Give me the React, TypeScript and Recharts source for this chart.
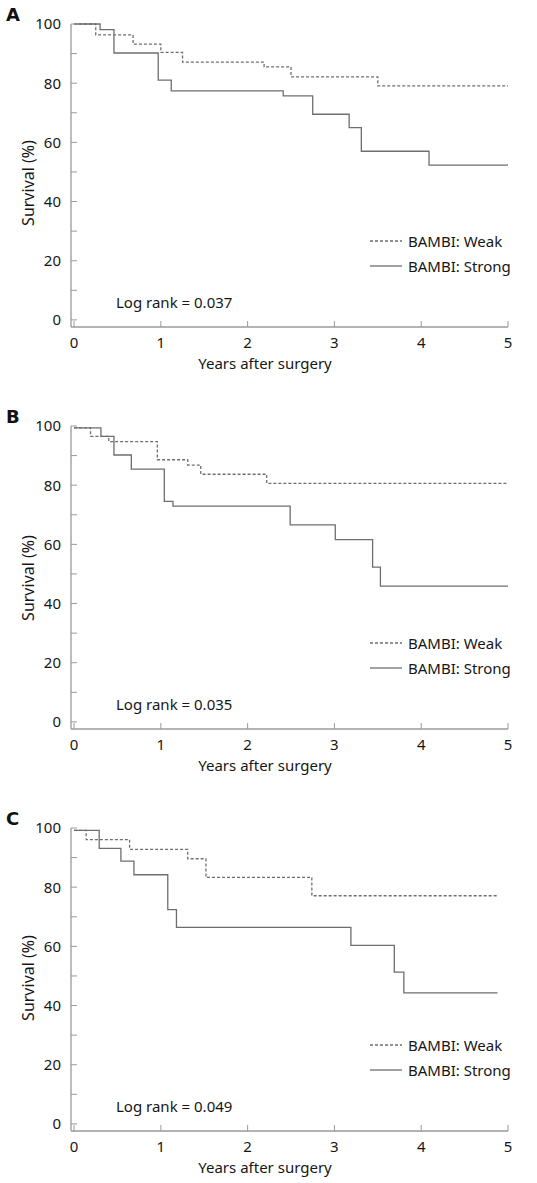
import React from "react";
import { LineChart, Line, XAxis, YAxis, Legend, Label } from "recharts";

// Kaplan-Meier steps: time (years) -> survival (%)
const yearsWeakA = [0, 0.25, 0.68, 1.0, 1.25, 2.19, 2.5, 3.5, 5];
const survWeakA = [100, 96.3, 93.2, 90.4, 87.1, 85.5, 82.1, 79.1, 79.1];
const yearsStrongA = [0, 0.3, 0.46, 0.97, 1.12, 2.41, 2.75, 3.17, 3.31, 4.09, 5];
const survStrongA = [100, 98.1, 90.2, 81.0, 77.4, 75.7, 69.5, 65.0, 57.0, 52.3, 52.3];

const yearsWeakB = [0, 0.19, 0.4, 0.96, 1.31, 1.46, 2.22, 5];
const survWeakB = [99.4, 96.5, 94.7, 88.6, 86.8, 83.7, 80.6, 80.6];
const yearsStrongB = [0, 0.31, 0.46, 0.66, 1.04, 1.14, 2.49, 3.01, 3.44, 3.53, 5];
const survStrongB = [99.4, 96.5, 90.2, 85.4, 74.5, 72.9, 66.6, 61.6, 52.3, 45.9, 45.9];

const yearsWeakC = [0, 0.14, 0.64, 1.31, 1.52, 2.74, 4.88];
const survWeakC = [99.2, 96.1, 92.8, 89.6, 83.3, 77.1, 77.1];
const yearsStrongC = [0, 0.29, 0.54, 0.69, 1.08, 1.18, 3.19, 3.69, 3.8, 4.88];
const survStrongC = [99.2, 93.1, 88.8, 84.2, 72.4, 66.4, 60.3, 51.3, 44.3, 44.3];

const panelLetters = ["A", "B", "C"];
const logRankValues = ["0.037", "0.035", "0.049"];
const xTicks = [0, 1, 2, 3, 4, 5];
const yTicks = [0, 10, 20, 30, 40, 50, 60, 70, 80, 90, 100];
const seriesNames = ["BAMBI: Weak", "BAMBI: Strong"];

const toPoints = (years: number[], surv: number[]) =>
  years.map((t, i) => ({ t, s: surv[i] }));

const panels = [
  { weak: toPoints(yearsWeakA, survWeakA), strong: toPoints(yearsStrongA, survStrongA), yLabelShift: 11 },
  { weak: toPoints(yearsWeakB, survWeakB), strong: toPoints(yearsStrongB, survStrongB), yLabelShift: 4 },
  { weak: toPoints(yearsWeakC, survWeakC), strong: toPoints(yearsStrongC, survStrongC), yLabelShift: 2 },
];

const FONT = "'Noto Sans', sans-serif";
const TEXT = "#161616";
const AXIS = "#9a9a9a";
const CURVE = "#6e6e6e";
const DASH = "3 2";

const YTick = (props: any) => {
  const { x, y, payload } = props;
  return (
    <g>
      <line x1={x} x2={x + 6} y1={y} y2={y} stroke={AXIS} strokeWidth={1} />
      {payload.value % 20 === 0 && (
        <text x={x - 10} y={y} dy="0.36em" textAnchor="end" fontSize={15} fontFamily={FONT} fill={TEXT}>
          {payload.value}
        </text>
      )}
    </g>
  );
};

const XTick = (props: any) => {
  const { x, y, payload } = props;
  return (
    <g>
      <line x1={x} x2={x} y1={y - 6} y2={y} stroke={AXIS} strokeWidth={1} />
      <text x={x} y={y + 16} dy="0.36em" textAnchor="middle" fontSize={15} fontFamily={FONT} fill={TEXT}>
        {payload.value}
      </text>
    </g>
  );
};

const LegendBox = (props: any) => {
  const entries = [...(props.payload || [])].sort(
    (a: any, b: any) => seriesNames.indexOf(a.value) - seriesNames.indexOf(b.value)
  );
  return (
    <div style={{ fontFamily: FONT, fontSize: 15, color: TEXT }}>
      {entries.map((entry: any) => (
        <div key={entry.value} style={{ display: "flex", alignItems: "center", height: 25 }}>
          <svg width={32} height={4} style={{ marginRight: 6 }}>
            <line
              x1={0}
              x2={32}
              y1={2}
              y2={2}
              stroke={CURVE}
              strokeWidth={1.3}
              strokeDasharray={entry.value === seriesNames[0] ? DASH : undefined}
            />
          </svg>
          <span>{entry.value}</span>
        </div>
      ))}
    </div>
  );
};

function Panel({ index }: { index: number }) {
  const p = panels[index];
  return (
    <div style={{ position: "relative", width: 537, height: 402 }}>
      <div
        style={{
          position: "absolute",
          left: 6,
          top: 4,
          fontFamily: "'DejaVu Sans', sans-serif",
          fontWeight: "bold",
          fontSize: 18,
          color: "#111",
          zIndex: 2,
        }}
      >
        {panelLetters[index]}
      </div>
      <div
        style={{
          position: "absolute",
          left: 116,
          top: 292,
          fontFamily: FONT,
          fontSize: 15,
          color: TEXT,
          zIndex: 2,
        }}
      >
        Log rank = {logRankValues[index]}
      </div>
      <LineChart width={537} height={402} margin={{ top: 24, right: 29, bottom: 25, left: 21 }}>
        <XAxis
          type="number"
          dataKey="t"
          domain={[-0.035, 5]}
          ticks={xTicks}
          interval={0}
          height={50}
          tickSize={0}
          tickMargin={0}
          tickLine={false}
          tick={<XTick />}
          stroke={AXIS}
          strokeWidth={1.3}
        >
          <Label
            content={(lp: any) => {
              const vb = lp.viewBox || {};
              return (
                <text
                  x={265}
                  y={vb.y + 37}
                  dy="0.36em"
                  textAnchor="middle"
                  fontSize={15}
                  fontFamily={FONT}
                  fill={TEXT}
                >
                  Years after surgery
                </text>
              );
            }}
          />
        </XAxis>
        <YAxis
          type="number"
          dataKey="s"
          domain={[-2.4, 100]}
          ticks={yTicks}
          interval={0}
          width={50}
          tickSize={0}
          tickMargin={0}
          tickLine={false}
          tick={<YTick />}
          stroke={AXIS}
          strokeWidth={1.3}
        >
          <Label
            content={(lp: any) => {
              const vb = lp.viewBox || {};
              const cx = 28;
              const cy = vb.y + 148 + p.yLabelShift;
              return (
                <text
                  x={cx}
                  y={cy}
                  dy="0.36em"
                  textAnchor="middle"
                  transform={`rotate(-90 ${cx} ${cy})`}
                  fontSize={16}
                  fontFamily={FONT}
                  fill={TEXT}
                >
                  Survival (%)
                </text>
              );
            }}
          />
        </YAxis>
        <Legend
          layout="horizontal"
          verticalAlign="middle"
          align="center"
          content={<LegendBox />}
          wrapperStyle={{ left: 370, top: 228, width: 160 }}
        />
        <Line
          data={p.weak}
          dataKey="s"
          name={seriesNames[0]}
          type="stepAfter"
          stroke={CURVE}
          strokeWidth={1.3}
          strokeDasharray={DASH}
          dot={false}
          activeDot={false}
          isAnimationActive={false}
        />
        <Line
          data={p.strong}
          dataKey="s"
          name={seriesNames[1]}
          type="stepAfter"
          stroke={CURVE}
          strokeWidth={1.3}
          dot={false}
          activeDot={false}
          isAnimationActive={false}
        />
      </LineChart>
    </div>
  );
}

export default function App() {
  return (
    <div
      style={{
        position: "absolute",
        top: 0,
        left: 0,
        width: 537,
        height: 1183,
        overflow: "hidden",
        background: "#fff",
      }}
    >
      <Panel index={0} />
      <Panel index={1} />
      <Panel index={2} />
    </div>
  );
}
